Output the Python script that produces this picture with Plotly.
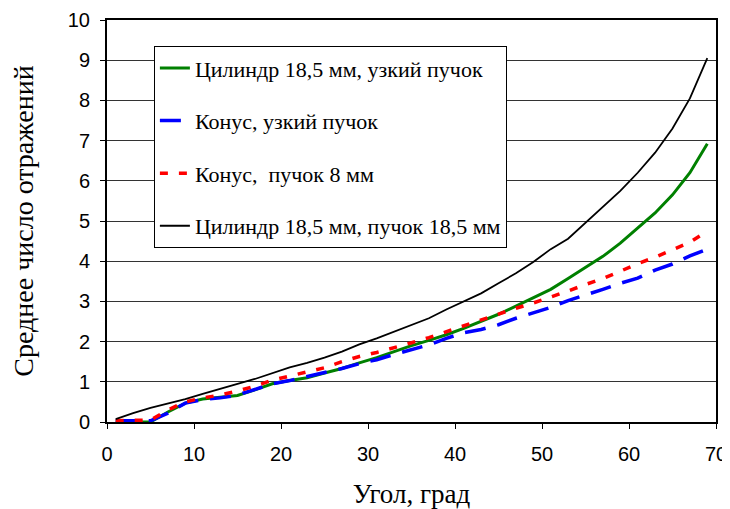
import plotly.graph_objects as go

angle = [1, 3, 5, 7, 9, 11, 13, 15, 17, 19, 21, 23, 25, 27, 29, 31, 33, 35,
         37, 39, 41, 43, 45, 47, 49, 51, 53, 55, 57, 59, 61, 63, 65, 67, 69]

cyl_narrow = [0, 0, 0, 0.25, 0.47, 0.57, 0.61, 0.66, 0.80, 0.95, 1.03, 1.10, 1.22, 1.33,
              1.47, 1.60, 1.75, 1.90, 2.03, 2.17, 2.33, 2.50, 2.68, 2.88, 3.08, 3.30,
              3.57, 3.84, 4.12, 4.45, 4.82, 5.20, 5.65, 6.20, 6.92]

cone_narrow = [0.03, 0.03, 0.03, 0.22, 0.47, 0.56, 0.60, 0.67, 0.80, 0.95, 1.03, 1.13,
               1.22, 1.33, 1.45, 1.55, 1.68, 1.80, 1.92, 2.08, 2.22, 2.30, 2.42, 2.58,
               2.72, 2.85, 3.02, 3.15, 3.30, 3.45, 3.58, 3.78, 3.93, 4.13, 4.30]

cone_8mm = [0.03, 0.03, 0.05, 0.30, 0.50, 0.60, 0.67, 0.77, 0.89, 1.04, 1.15, 1.25,
            1.35, 1.50, 1.63, 1.73, 1.84, 1.97, 2.10, 2.25, 2.38, 2.53, 2.68, 2.83,
            2.96, 3.10, 3.26, 3.42, 3.57, 3.75, 3.94, 4.10, 4.28, 4.47, 4.75]

cyl_wide = [0.07, 0.22, 0.35, 0.46, 0.57, 0.70, 0.83, 0.95, 1.07, 1.22, 1.36, 1.47,
            1.60, 1.75, 1.93, 2.08, 2.25, 2.41, 2.58, 2.80, 3.00, 3.20, 3.45, 3.70,
            3.98, 4.30, 4.56, 4.95, 5.35, 5.75, 6.20, 6.70, 7.30, 8.05, 9.05]

names = ["Цилиндр 18,5 мм, узкий пучок", "Конус, узкий пучок",
         "Конус,  пучок 8 мм", "Цилиндр 18,5 мм, пучок 18,5 мм"]

x_title = "Угол, град"
y_title = "Среднее число отражений"

fig = go.Figure()
fig.add_trace(go.Scatter(x=angle, y=cyl_narrow, mode="lines", name=names[0],
                         legendgroup="a", line=dict(color="#008000", width=3)))
fig.add_trace(go.Scatter(x=angle, y=cone_narrow, mode="lines", name=names[1],
                         legendgroup="b", line=dict(color="#0000ff", width=3.5, dash="21px,12px")))
fig.add_trace(go.Scatter(x=angle, y=cone_8mm, mode="lines", name=names[2],
                         legendgroup="c", line=dict(color="#ff0000", width=3.5, dash="8px,11px")))
fig.add_trace(go.Scatter(x=angle, y=cyl_wide, mode="lines", name=names[3],
                         legendgroup="d", line=dict(color="#000000", width=1.8)))

tickfont = dict(family="Liberation Sans, Arial", size=20, color="black")
xtitlefont = dict(family="Liberation Serif, Times New Roman", size=27, color="black")
ytitlefont = dict(family="Liberation Serif, Times New Roman", size=28, color="black")

# page body has an 8px margin, so the figure is sized to fit the 730x509 window
fig.update_layout(
    width=722, height=501,
    margin=dict(l=99, r=14, t=12, b=87),
    paper_bgcolor="white", plot_bgcolor="white",
    font=dict(family="Liberation Serif", color="black"),
    showlegend=True,
    legend=dict(x=0.077, y=0.935, xanchor="left", yanchor="top",
                bgcolor="white", bordercolor="black", borderwidth=1,
                font=dict(family="Liberation Serif, Times New Roman", size=22, color="black"),
                traceorder="grouped", tracegroupgap=21),
    xaxis=dict(range=[0, 70], dtick=10, showgrid=False, zeroline=False, automargin=False,
               showline=True, linecolor="black", linewidth=2, mirror=True,
               ticks="outside", ticklen=5, tickcolor="black", ticklabelstandoff=8,
               tickfont=tickfont,
               title=dict(text=x_title, font=xtitlefont, standoff=37)),
    yaxis=dict(range=[0, 10], dtick=1, showgrid=True, gridcolor="#333333", gridwidth=1,
               zeroline=False, showline=True, linecolor="black", linewidth=2, mirror=True,
               automargin=False,
               ticks="outside", ticklen=5, tickcolor="black", ticklabelstandoff=6,
               tickfont=tickfont,
               title=dict(text=y_title, font=ytitlefont, standoff=30)),
)

fig.write_html("out.html")
